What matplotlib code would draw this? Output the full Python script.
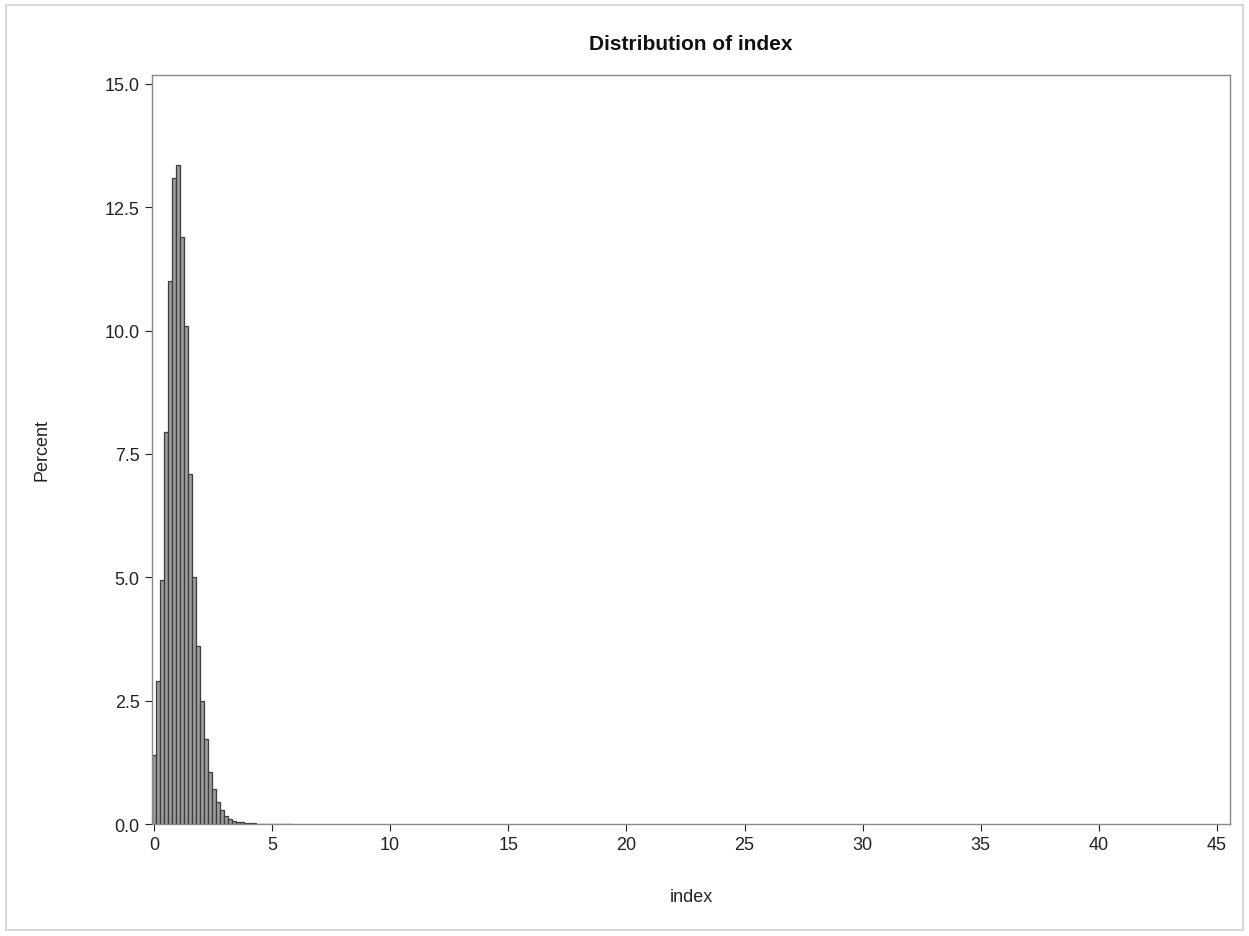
import numpy as np
import matplotlib
matplotlib.use("Agg")
import matplotlib.pyplot as plt
from matplotlib.patches import Rectangle

plt.rcParams['font.family'] = ['Liberation Sans', 'DejaVu Sans']

# histogram of index: bin midpoints step, percent per bin
bin_width = 0.17
percent = [1.4, 2.9, 4.95, 7.95, 11.0, 13.1, 13.35, 11.9, 10.1, 7.1,
           5.0, 3.6, 2.5, 1.72, 1.05, 0.7, 0.45, 0.28, 0.17, 0.11,
           0.07, 0.05, 0.035, 0.025, 0.018, 0.012, 0.009, 0.006, 0.004, 0.003,
           0.003, 0.002, 0.002, 0.001, 0.001]
x_ticks = [0, 5, 10, 15, 20, 25, 30, 35, 40, 45]
y_ticks = [0.0, 2.5, 5.0, 7.5, 10.0, 12.5, 15.0]

mids = np.arange(len(percent)) * bin_width

fig = plt.figure(figsize=(12.49, 9.37), dpi=100)
ax = fig.add_axes([152/1249, 1-825/937, (1230-152)/1249, (825-76)/937])

ax.bar(mids, percent, width=bin_width, color='#9c9c9c',
       edgecolor='#3c3c3c', linewidth=0.9)

ax.set_xlim(-0.08, 45.55)
ax.set_ylim(0, 15.18)
ax.set_xticks(x_ticks)
ax.set_yticks(y_ticks)
ax.set_yticklabels(['%.1f' % v for v in y_ticks])
ax.tick_params(labelsize=13, colors='#222222', length=5, width=0.8,
               direction='out', pad=4)
for sp in ax.spines.values():
    sp.set_color('#888888')
    sp.set_linewidth(1.0)

ax.set_xlabel('index', fontsize=13, color='#222222')
ax.set_ylabel('Percent', fontsize=13, color='#222222')
ax.xaxis.set_label_coords(0.5, -0.085)
ax.yaxis.set_label_coords(-0.094, 0.5)

fig.text((152+1230)/2/1249, 1-45/937, 'Distribution of index',
         ha='center', va='center', fontsize=15, fontweight='bold', color='#111111')

# light outer frame
fig.patches.append(Rectangle((6/1249, 6/937), 1-12/1249, 1-12/937,
                             transform=fig.transFigure, fill=False,
                             edgecolor='#d8d8d8', linewidth=1.5))

fig.savefig('out.png', dpi=100)
